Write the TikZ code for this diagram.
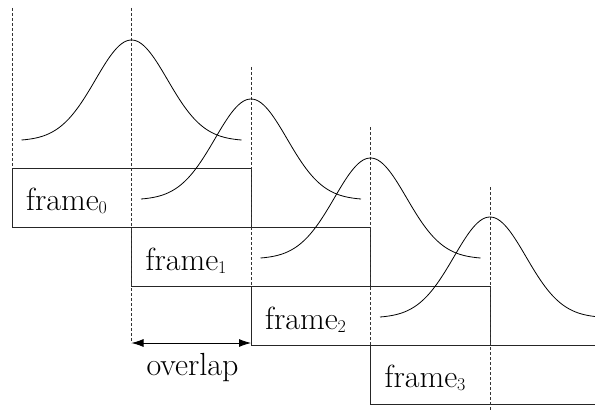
\documentclass[tikz,border=0pt]{standalone}
\usetikzlibrary{arrows.meta}
\newcommand{\frm}[1]{frame\raisebox{-3.5pt}{\fontsize{18}{22}\selectfont #1}}
\begin{document}
\begin{tikzpicture}[x=1pt,y=-1pt,
  framebox/.style={draw=black!85, line width=0.8pt, minimum width=239pt, minimum height=59pt, anchor=north west, inner sep=0pt, outer sep=0pt},
  guide/.style={draw=black!80, dash pattern=on 3pt off 2pt, line width=0.6pt},
  lbl/.style={font=\fontsize{32}{38}\selectfont, anchor=base west, inner sep=0pt},
  bump/.pic={\draw[line width=0.8pt] plot[domain=-110:110, samples=89, smooth] (\x, {-100.95*(exp(-\x*\x/2592)-0.0094)});}
]
\useasboundingbox (0,0) rectangle (595,412);
\clip (0,0) rectangle (595,412);

% frames
\node[framebox] (f0) at (12,168) {};
\node[framebox] (f1) at (131.5,227) {};
\node[framebox] (f2) at (251,286) {};
\node[framebox] (f3) at (370.5,345) {};

% labels
\node[lbl] (t0) at (26,210) {\frm{0}};
\node[lbl] (t1) at (145.5,270) {\frm{1}};
\node[lbl] (t2) at (265,329) {\frm{2}};
\node[lbl] (t3) at (384.5,387) {\frm{3}};

% guide lines
\coordinate (g0) at (12,8);
\coordinate (g1t) at (131.5,8);
\coordinate (g1b) at (131.5,343);
\coordinate (g2t) at (251,67);
\coordinate (g3t) at (370.5,127);
\coordinate (g4t) at (490,187);
\coordinate (g4b) at (490,412);
\draw[guide] (g0) -- (f0.north west);
\draw[guide] (g1t) -- (g1b);
\draw[guide] (g2t) -- (f2.north west);
\draw[guide] (g3t) -- (f3.north west);
\draw[guide] (g4t) -- (g4b);

% bell curves
\pic at (131.5,140) {bump};
\pic at (251,199) {bump};
\pic at (370.5,258) {bump};
\pic at (490,317) {bump};

% overlap arrow
\coordinate (ovl) at (131.5,343);
\coordinate (ovr) at (251,343);
\draw[line width=0.8pt, {Latex[length=12pt,width=8pt]}-{Latex[length=12pt,width=8pt]}] (ovl) -- (ovr);
\node[lbl, anchor=base] (ovt) at (192.5,375) {overlap};
\end{tikzpicture}
\end{document}
